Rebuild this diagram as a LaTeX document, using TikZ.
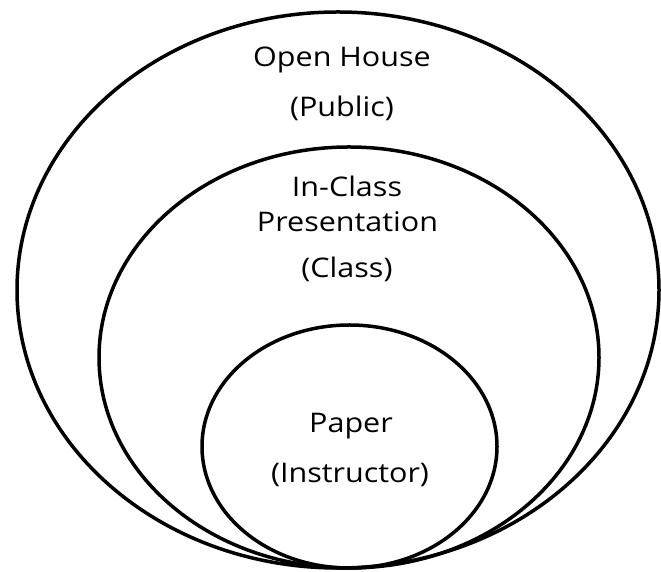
\documentclass[tikz,border=0pt]{standalone}
\usepackage{fontspec}
\setmainfont{Open Sans}
\begin{document}
\begin{tikzpicture}[x=1pt,y=1pt,
  ring/.style={draw=black, line width=3.5pt},
  lbl/.style={font=\fontsize{27}{31}\selectfont, anchor=base, inner sep=0pt, xscale=1.13}]
\useasboundingbox (0,0) rectangle (661,572);
% nested audience rings, all touching at the bottom
\draw[ring] (338,282) ellipse [x radius=321, y radius=278];
\draw[ring] (349,214.5) ellipse [x radius=250, y radius=210.5];
\draw[ring] (349.5,125.5) ellipse [x radius=147.5, y radius=121.5];
% labels
\node[lbl] (open)  at (342,505) {Open House};
\node[lbl] (pub)   at (342,455) {(Public)};
\node[lbl] (incl)  at (347,375) {In-Class};
\node[lbl] (pres)  at (347.5,340) {Presentation};
\node[lbl] (cls)   at (347,294) {(Class)};
\node[lbl] (paper) at (351,139) {Paper};
\node[lbl] (instr) at (350,89) {(Instructor)};
\end{tikzpicture}
\end{document}
